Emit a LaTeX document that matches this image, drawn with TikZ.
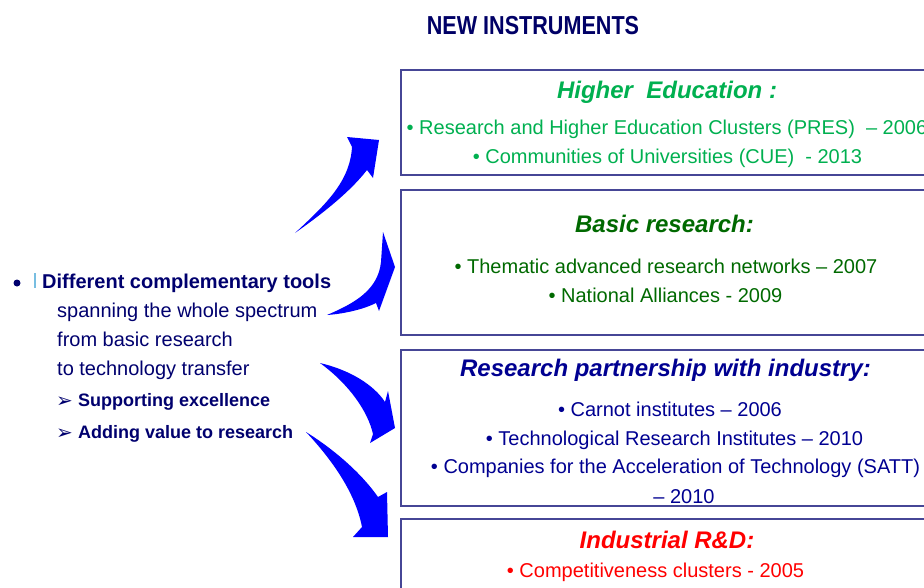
\documentclass[tikz,border=0pt]{standalone}
\usepackage{fontspec}
\setmainfont{Liberation Sans}
\newfontfamily\narrowfont[FakeStretch=0.83]{Liberation Sans}
\newfontfamily\dingfont{DejaVu Sans}
\definecolor{titlenavy}{RGB}{0,0,102}
\definecolor{textnavy}{RGB}{0,0,110}
\definecolor{framenavy}{RGB}{70,70,150}
\definecolor{hegreen}{RGB}{0,176,80}
\definecolor{brgreen}{RGB}{0,105,0}
\definecolor{rpblue}{RGB}{0,0,145}
\definecolor{irred}{RGB}{255,0,0}
\definecolor{arrowblue}{RGB}{0,0,255}
\definecolor{barblue}{RGB}{120,190,225}
\begin{document}
\begin{tikzpicture}[x=1pt, y=-1pt,
    boxframe/.style={draw=framenavy, line width=1.2pt, minimum width=532pt, inner sep=0pt},
    headtxt/.style={anchor=base, inner sep=0pt, font=\fontsize{24}{28}\selectfont\bfseries\itshape},
    itemtxt/.style={anchor=base, inner sep=0pt, font=\fontsize{20}{24}\selectfont},
    lefttxt/.style={anchor=base west, inner sep=0pt, text=textnavy, font=\fontsize{20}{24}\selectfont},
    subtxt/.style={anchor=base west, inner sep=0pt, text=textnavy, font=\fontsize{18}{22}\selectfont\bfseries},
    marktxt/.style={anchor=base west, inner sep=0pt, text=textnavy, font=\dingfont\fontsize{20}{24}\selectfont},
    bentarrow/.style={fill=arrowblue}]
  \useasboundingbox (0,0) rectangle (924,587);
  \clip (0,0) rectangle (924,587);

  \node[anchor=base, inner sep=0pt, text=titlenavy, font=\narrowfont\fontsize{26}{30}\selectfont\bfseries] (title) at (533,34) {NEW INSTRUMENTS};

  \node[boxframe, minimum height=105pt] (heBox) at (667,122.5) {};
  \node[boxframe, minimum height=145pt] (brBox) at (667,262.5) {};
  \node[boxframe, minimum height=156pt] (rpBox) at (667,428) {};
  \node[boxframe, minimum height=81pt] (irBox) at (667,559.5) {};

  \node[headtxt, text=hegreen] (heTitle) at (667,98) {Higher\ \ Education :};
  \node[itemtxt, text=hegreen] (heOne) at (667,134.5) {• Research and Higher Education Clusters (PRES)\ \ – 2006};
  \node[itemtxt, text=hegreen] (heTwo) at (667.5,163) {• Communities of Universities (CUE)\ \ - 2013};

  \node[headtxt, text=brgreen] (brTitle) at (664.5,232) {Basic research:};
  \node[itemtxt, text=brgreen] (brOne) at (666,273) {• Thematic advanced research networks – 2007};
  \node[itemtxt, text=brgreen] (brTwo) at (665.5,302) {• National Alliances - 2009};

  \node[headtxt, text=rpblue] (rpTitle) at (665.5,376) {Research partnership with industry:};
  \node[itemtxt, text=rpblue] (rpOne) at (670,416) {• Carnot institutes – 2006};
  \node[itemtxt, text=rpblue] (rpTwo) at (674.5,445) {• Technological Research Institutes – 2010};
  \node[itemtxt, text=rpblue] (rpThree) at (675.5,473.5) {• Companies for the Acceleration of Technology (SATT)};
  \node[itemtxt, text=rpblue] (rpFour) at (684,503) {– 2010};

  \node[headtxt, text=irred] (irTitle) at (667,548) {Industrial R\&D:};
  \node[itemtxt, text=irred] (irOne) at (655.5,577) {• Competitiveness clusters - 2005};

  \node[circle, fill=textnavy, inner sep=0pt, minimum size=7pt] (dot) at (17,283) {};
  \node[rectangle, fill=barblue, inner sep=0pt, minimum width=2.5pt, minimum height=15pt] (bar) at (35,280.5) {};
  \node[lefttxt, font=\fontsize{20}{24}\selectfont\bfseries] (tools) at (42,288) {Different complementary tools};
  \node[lefttxt] (spanning) at (57,317) {spanning the whole spectrum};
  \node[lefttxt] (basic) at (57,346) {from basic research};
  \node[lefttxt] (transfer) at (57,375) {to technology transfer};
  \node[marktxt] (markOne) at (56,407) {➢};
  \node[subtxt] (excellence) at (78,406) {Supporting excellence};
  \node[marktxt] (markTwo) at (56,439) {➢};
  \node[subtxt] (value) at (78,438) {Adding value to research};

  \fill[bentarrow] (295,233) .. controls (325,205) and (350,182) .. (352,147) -- (347,137) -- (379,140) -- (373,178) -- (367,170) .. controls (350,192) and (322,214) .. (295,233) -- cycle;
  \fill[bentarrow] (327,315) .. controls (355,303) and (378,290) .. (381,262) -- (383,232) -- (395,267) -- (379,311) -- (376,303) .. controls (362,310) and (342,314) .. (327,315) -- cycle;
  \fill[bentarrow] (320,363) .. controls (350,370) and (374,385) .. (385,402) -- (388,391) -- (395,428) -- (370,443) -- (373,434) .. controls (368,412) and (350,385) .. (320,363) -- cycle;
  \fill[bentarrow] (306,432) .. controls (335,450) and (362,474) .. (378,497) -- (387,492) -- (388,537) -- (353,537) -- (362,527) .. controls (356,496) and (336,464) .. (306,432) -- cycle;
\end{tikzpicture}
\end{document}
